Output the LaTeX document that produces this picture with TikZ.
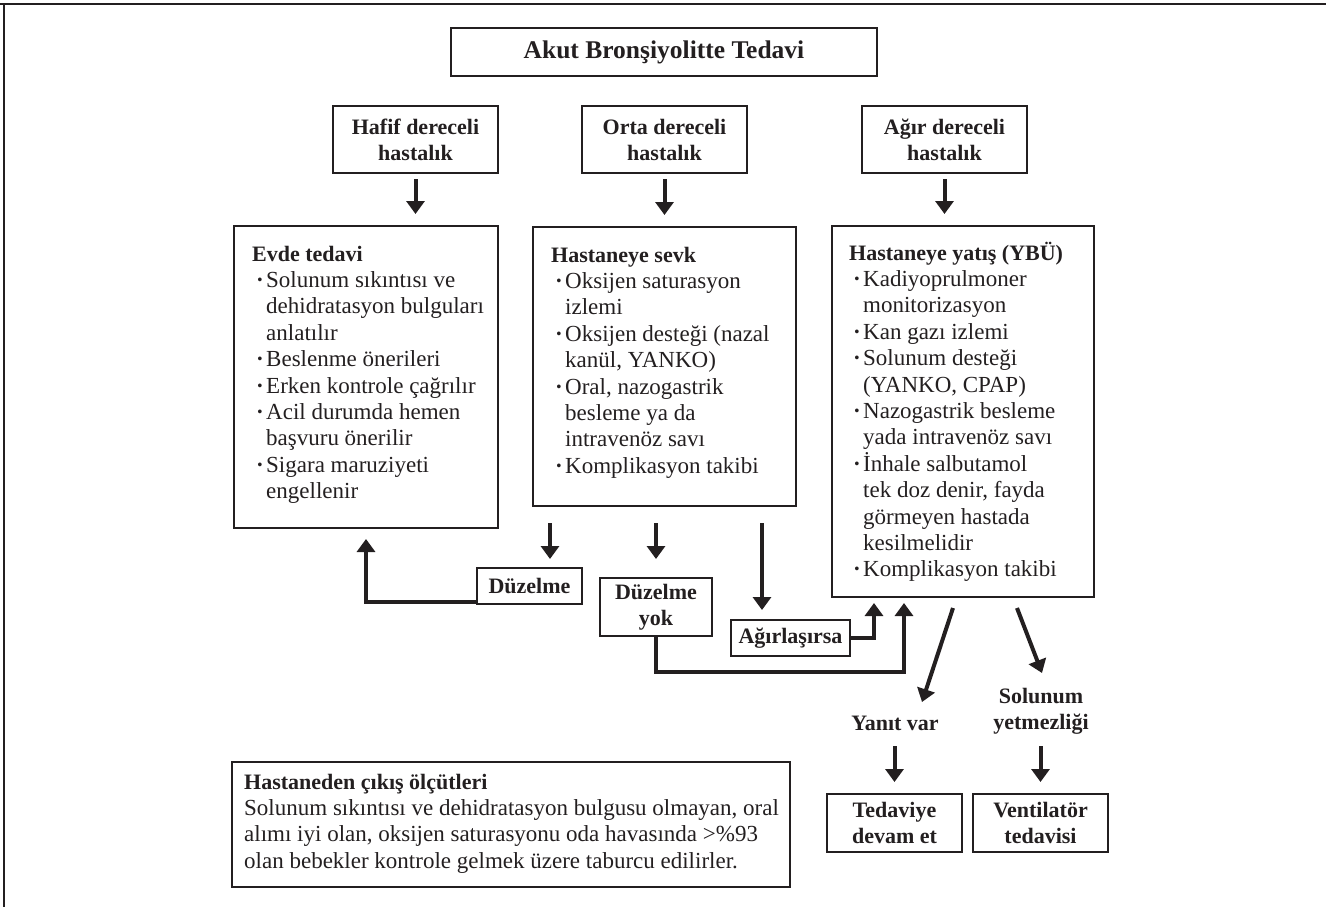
\documentclass[tikz,border=0pt]{standalone}
\usepackage{fontspec}
\setmainfont{Liberation Serif}
\usetikzlibrary{arrows.meta,calc}
\definecolor{ink}{RGB}{35,31,32}
\newcommand{\bl}{\makebox[14pt][l]{\hspace{4pt}\textbf{·}}}
\newcommand{\ind}{\hspace*{14pt}}
\newcommand{\bodyfont}{\fontsize{23}{26.4}\selectfont}
\newcommand{\headfont}{\fontsize{22}{26.4}\selectfont\bfseries}
\begin{document}
\begin{tikzpicture}[x=1pt,y=-1pt,
  box/.style={draw=ink, line width=2pt, inner sep=0pt, outer sep=0pt, align=center, text=ink,
    font=\fontsize{22}{26}\selectfont\bfseries},
  lbl/.style={inner sep=0pt, align=center, text=ink, font=\fontsize{22}{26}\selectfont\bfseries},
  txt/.style={inner sep=0pt, anchor=base west, text=ink},
  arr/.style={draw=ink, line width=4pt, -{Triangle[width=18pt,length=13pt]}},
  conn/.style={draw=ink, line width=4.5pt, line join=miter, -{Triangle[width=18pt,length=13pt]}}]
\useasboundingbox (0,0) rectangle (1326,907);
% frame
\draw[ink, line width=1.5pt] (0,4) -- (1326,4);
\draw[ink, line width=1.5pt] (4,4) -- (4,907);

% title and levels
\node[box, minimum width=426pt, minimum height=48pt, font=\fontsize{25.5}{30}\selectfont\bfseries] (title) at (664,52) {Akut Bronşiyolitte Tedavi};
\node[box, minimum width=165pt, minimum height=67pt] (hafif) at (415.5,139.5) {Hafif dereceli\\hastalık};
\node[box, minimum width=165pt, minimum height=67pt] (orta) at (664.5,139.5) {Orta dereceli\\hastalık};
\node[box, minimum width=165pt, minimum height=67pt] (agir) at (944.5,139.5) {Ağır dereceli\\hastalık};

% big boxes
\node[box, minimum width=264pt, minimum height=302pt] (evde) at (366,377) {};
\node[box, minimum width=263pt, minimum height=279pt] (sevk) at (664.5,366.5) {};
\node[box, minimum width=262pt, minimum height=371pt] (yatis) at (963,411.5) {};

\node[txt] (evdeT) at ([xshift=18pt,yshift=-35pt]evde.north west) {\parbox[t]{250pt}{\bodyfont\raggedright
{\headfont Evde tedavi}\\
\bl Solunum sıkıntısı ve\\
\ind dehidratasyon bulguları\\
\ind anlatılır\\
\bl Beslenme önerileri\\
\bl Erken kontrole çağrılır\\
\bl Acil durumda hemen\\
\ind başvuru önerilir\\
\bl Sigara maruziyeti\\
\ind engellenir}};

\node[txt] (sevkT) at ([xshift=18pt,yshift=-35pt]sevk.north west) {\parbox[t]{250pt}{\bodyfont\raggedright
{\headfont Hastaneye sevk}\\
\bl Oksijen saturasyon\\
\ind izlemi\\
\bl Oksijen desteği (nazal\\
\ind kanül, YANKO)\\
\bl Oral, nazogastrik\\
\ind besleme ya da\\
\ind intravenöz savı\\
\bl Komplikasyon takibi}};

\node[txt] (yatisT) at ([xshift=17pt,yshift=-34pt]yatis.north west) {\parbox[t]{250pt}{\bodyfont\raggedright
{\headfont Hastaneye yatış (YBÜ)}\\
\bl Kadiyoprulmoner\\
\ind monitorizasyon\\
\bl Kan gazı izlemi\\
\bl Solunum desteği\\
\ind (YANKO, CPAP)\\
\bl Nazogastrik besleme\\
\ind yada intravenöz savı\\
\bl İnhale salbutamol\\
\ind tek doz denir, fayda\\
\ind görmeyen hastada\\
\ind kesilmelidir\\
\bl Komplikasyon takibi}};

% outcome boxes
\node[box, minimum width=105pt, minimum height=36pt] (duz) at (529.5,586) {Düzelme};
\node[box, minimum width=112pt, minimum height=58pt] (yok) at (656,607) {Düzelme\\yok};
\node[box, minimum width=119pt, minimum height=36pt] (agr) at (790.5,638) {Ağırlaşırsa};

\node[lbl] (yanit) at (895,723) {Yanıt var};
\node[lbl] (solun) at (1041,711.5) {Solunum\\yetmezliği};
\node[box, minimum width=135pt, minimum height=58pt] (ted) at (894.5,823) {Tedaviye\\devam et};
\node[box, minimum width=135pt, minimum height=58pt] (vent) at (1040.5,823) {Ventilatör\\tedavisi};

% discharge box
\node[box, minimum width=558pt, minimum height=125pt] (hast) at (511,824.5) {};
\node[txt] (hastT) at ([xshift=12pt,yshift=-27pt]hast.north west) {\parbox[t]{545pt}{\bodyfont\raggedright
{\headfont Hastaneden çıkış ölçütleri}\\
Solunum sıkıntısı ve dehidratasyon bulgusu olmayan, oral\\
alımı iyi olan, oksijen saturasyonu oda havasında >\%93\\
olan bebekler kontrole gelmek üzere taburcu edilirler.}};

% arrows from level boxes
\draw[arr, shorten <=6pt, shorten >=12pt] (hafif.south) -- (hafif.south |- evde.north);
\draw[arr, shorten <=6pt, shorten >=12pt] (orta.south) -- (orta.south |- sevk.north);
\draw[arr, shorten <=6pt, shorten >=12pt] (agir.south) -- (agir.south |- yatis.north);

% arrows below sevk
\coordinate (a1) at ([xshift=20.5pt]duz.north);
\coordinate (a3) at ([xshift=-28.5pt]agr.north);
\draw[arr, shorten <=17pt, shorten >=9pt] (a1 |- sevk.south) -- (a1);
\draw[arr, shorten <=17pt, shorten >=19pt] (yok.north |- sevk.south) -- (yok.north);
\draw[arr, shorten <=17pt, shorten >=10pt] (a3 |- sevk.south) -- (a3);

% elbow connectors
\draw[conn, shorten >=11pt] ([yshift=2pt]duz.south west) -| (evde.south);
\coordinate (u1) at ([xshift=-89pt]yatis.south);
\coordinate (u2) at ([xshift=-59pt]yatis.south);
\coordinate (ybend) at (0,672);
\draw[conn, shorten >=6pt] (agr.east) -| (u1);
\draw[conn, shorten >=6pt] (yok.south) -- (yok.south |- ybend) -| (u2);

% diagonal arrows
\coordinate (d1s) at (953,608);
\coordinate (d1e) at (922,702);
\coordinate (d2s) at (1017,608);
\coordinate (d2e) at (1042,673);
\draw[arr] (d1s) -- (d1e);
\draw[arr] (d2s) -- (d2e);

% final arrows
\draw[arr] ([yshift=48pt]ted.north) -- ([yshift=12pt]ted.north);
\draw[arr] ([yshift=48pt]vent.north) -- ([yshift=12pt]vent.north);
\end{tikzpicture}
\end{document}
